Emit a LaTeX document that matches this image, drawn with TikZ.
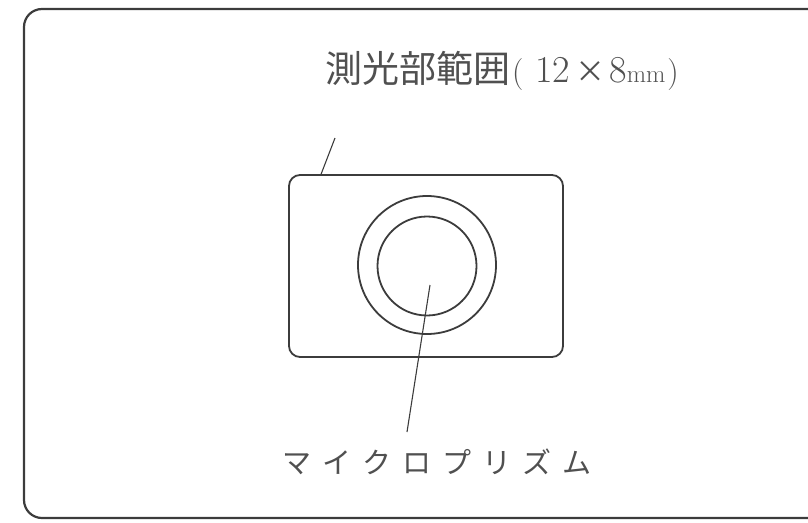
\documentclass[tikz,border=0pt]{standalone}
\usepackage{fontspec}
\newfontfamily\cjk{Noto Sans CJK JP}
\definecolor{ink}{HTML}{3C3C3C}
\definecolor{txt}{HTML}{505050}
\tikzset{
  frameline/.style={draw=ink, line width=2.2pt, rounded corners=18pt},
  partline/.style={draw=ink, line width=1.8pt},
  leader/.style={draw=ink, line width=1.1pt},
  lbl/.style={inner sep=0pt, text=txt}
}
\begin{document}
\begin{tikzpicture}[x=1pt,y=-1pt]
\useasboundingbox (0,0) rectangle (808,522);
\clip (0,0) rectangle (808,522);
% outer frame (right side runs off the picture)
\draw[frameline] (24,9) rectangle (850,518);
% metering area rectangle
\node[partline, rounded corners=11pt, minimum width=274pt, minimum height=182pt, inner sep=0pt] (area) at (426,266) {};
% microprism circles
\node[partline, circle, minimum size=138pt, inner sep=0pt] (ring) at (427,265) {};
\node[partline, circle, minimum size=99pt, inner sep=0pt] (prism) at (427,266) {};
% labels
\node[lbl, anchor=base west] (t1) at (325,82)
  {{\cjk\fontsize{37}{37}\selectfont 測光部範囲}\kern2pt{\fontsize{32}{32}\selectfont(}\kern12pt{\fontsize{38}{38}\selectfont 12}\kern5pt{\cjk\fontsize{30}{30}\selectfont ×}\kern4pt{\fontsize{38}{38}\selectfont 8}{\fontsize{25}{25}\selectfont mm}\kern2pt{\fontsize{32}{32}\selectfont)}};
\node[lbl, anchor=base] (t2) at (437,473)
  {\cjk\fontsize{29}{29}\selectfont マ\kern11pt イ\kern11pt ク\kern11pt ロ\kern11pt プ\kern11pt リ\kern11pt ズ\kern11pt ム};
% leaders
\coordinate (l1end) at (335,138);
\coordinate (l2start) at (430,285);
\coordinate (l2end) at (407,432);
\draw[leader] ([xshift=33pt]area.north west) -- (l1end);
\draw[leader] (l2start) -- (l2end);
\end{tikzpicture}
\end{document}
